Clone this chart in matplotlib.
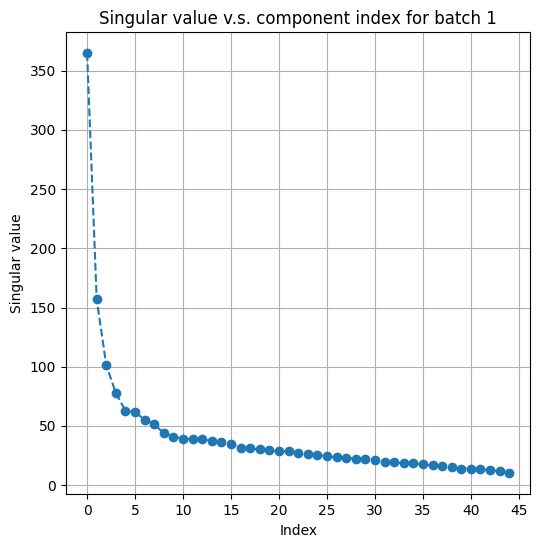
import numpy as np
import matplotlib
matplotlib.use("Agg")
import matplotlib.pyplot as plt

# singular values, component index 0..44
singular_values = [
    364.7, 157.0, 101.3, 77.7, 62.7, 61.9, 55.1, 51.6, 43.8, 41.0,
    39.3, 38.7, 38.7, 37.6, 36.2, 34.5, 31.6, 31.0, 30.2, 29.4,
    28.5, 28.8, 27.1, 26.0, 25.4, 24.6, 23.4, 23.2, 22.3, 21.8,
    20.9, 20.0, 19.2, 18.4, 18.4, 17.5, 16.7, 15.8, 15.0, 14.1,
    14.1, 13.3, 12.7, 11.9, 9.9,
]
batch = 1

fig = plt.figure(figsize=(5.4, 5.47), dpi=100)
ax = fig.add_axes([0.1222, 0.096, 0.860, 0.845])

idx = np.arange(len(singular_values))
ax.plot(idx, singular_values, "o--")
ax.set_xticks(np.arange(0, 50, 5))
ax.set_xlabel("Index")
ax.set_ylabel("Singular value")
ax.set_title(f"Singular value v.s. component index for batch {batch}")
ax.grid(True)

fig.savefig("out.png", dpi=100)
